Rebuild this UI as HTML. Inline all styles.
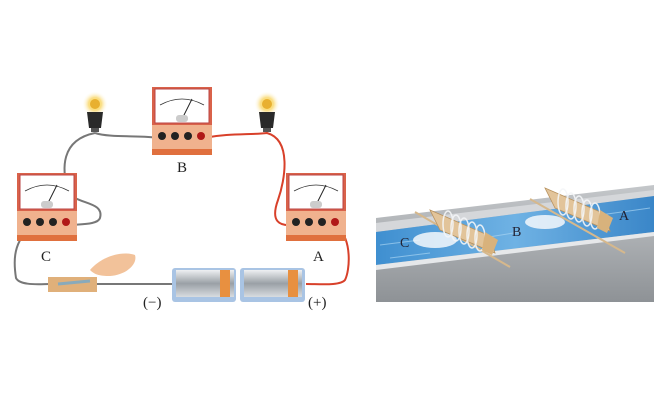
<!DOCTYPE html>
<html><head><meta charset="utf-8"><style>html,body{margin:0;padding:0;background:#fff}svg{display:block}</style></head>
<body>
<svg width="667" height="400" viewBox="0 0 667 400" xmlns="http://www.w3.org/2000/svg" font-family="Liberation Serif, serif">
<defs>
<linearGradient id="bat" x1="0" y1="0" x2="0" y2="1"><stop offset="0" stop-color="#eef0f2"/><stop offset="0.5" stop-color="#9aa0a6"/><stop offset="1" stop-color="#d8dce0"/></linearGradient>
<linearGradient id="wall" x1="0" y1="0" x2="0" y2="1"><stop offset="0" stop-color="#c4c7ca"/><stop offset="1" stop-color="#8e9296"/></linearGradient>
<linearGradient id="water" x1="0" y1="0" x2="1" y2="0"><stop offset="0" stop-color="#3f8fd0"/><stop offset="0.5" stop-color="#6fb2e4"/><stop offset="1" stop-color="#3a86c8"/></linearGradient>
<radialGradient id="glow"><stop offset="0" stop-color="#ffe070"/><stop offset="0.5" stop-color="#f8d050" stop-opacity="0.7"/><stop offset="1" stop-color="#fff" stop-opacity="0"/></radialGradient>
<g id="meter">
<rect x="0" y="0" width="60" height="68" fill="#d9624a"/>
<rect x="3" y="2" width="54" height="34" fill="#fff" stroke="#b44"/>
<path d="M8 18 Q30 6 52 18" fill="none" stroke="#333" stroke-width="0.8"/>
<line x1="30" y1="32" x2="40" y2="12" stroke="#222" stroke-width="1"/>
<rect x="24" y="28" width="12" height="7" rx="3" fill="#ccc"/>
<rect x="0" y="38" width="60" height="30" fill="#f0b28e"/>
<rect x="0" y="62" width="60" height="6" fill="#e0703e"/>
<circle cx="10" cy="49" r="4" fill="#222"/><circle cx="23" cy="49" r="4" fill="#222"/><circle cx="36" cy="49" r="4" fill="#222"/><circle cx="49" cy="49" r="4" fill="#b01818"/>
</g>
<g id="bulb">
<circle cx="0" cy="0" r="13" fill="url(#glow)"/>
<circle cx="0" cy="0" r="5" fill="#e8b030"/>
<path d="M-8 8 H8 L6 24 H-6 Z" fill="#2a2a2a"/>
<rect x="-4" y="24" width="8" height="4" fill="#555"/>
</g>
<g id="wheel">
<polygon points="0,0 60,26 65,43 10,20" fill="#e2c49a" stroke="#b8925e" stroke-width="0.8"/>
<g fill="none" stroke="#f4f6f8" stroke-width="1.5" opacity="0.9">
<ellipse cx="18" cy="14" rx="5" ry="13"/><ellipse cx="26" cy="18" rx="5" ry="13"/><ellipse cx="34" cy="21" rx="5" ry="13"/><ellipse cx="42" cy="25" rx="5" ry="13"/><ellipse cx="50" cy="28" rx="5" ry="13"/>
</g>
<polygon points="55,22 68,30 62,45 52,40" fill="#d8b27c"/>
</g>
</defs>
<g fill="none" stroke-width="2">
<path d="M95 133 C60 140,62 170,68 190 C72 205,105 200,100 218 C98 224,85 224,72 225" stroke="#777"/>
<path d="M95 133 C110 138,140 135,160 138" stroke="#777"/>
<path d="M203 138 C230 133,250 135,267 133 C292 140,285 180,278 200 C270 222,280 226,292 225" stroke="#d8402a"/>
<path d="M338 228 C352 240,350 270,345 280 C340 286,320 284,306 284" stroke="#d8402a"/>
<path d="M28 230 C12 245,14 265,16 278 C20 286,40 284,50 284" stroke="#777"/>
<path d="M97 284 L172 284" stroke="#777"/>
</g>
<use href="#meter" x="152" y="87"/>
<use href="#meter" x="17" y="173"/>
<use href="#meter" x="286" y="173"/>
<use href="#bulb" x="95" y="104"/>
<use href="#bulb" x="267" y="104"/>
<rect x="172" y="268" width="64" height="34" rx="3" fill="#a9c4e4"/>
<rect x="176" y="270" width="58" height="27" fill="url(#bat)"/>
<rect x="220" y="270" width="10" height="27" fill="#e89040"/>
<rect x="240" y="268" width="65" height="34" rx="3" fill="#a9c4e4"/>
<rect x="244" y="270" width="58" height="27" fill="url(#bat)"/>
<rect x="288" y="270" width="10" height="27" fill="#e89040"/>
<rect x="48" y="277" width="49" height="15" fill="#e0b07a"/>
<path d="M58 284 L90 281" stroke="#8ab" stroke-width="3"/>
<path d="M90 270 C100 258,120 250,135 255 C138 265,125 275,110 276 C100 276,95 275,90 270 Z" fill="#f2c29a"/>
<g font-size="15" fill="#222">
<text x="177" y="172">B</text>
<text x="41" y="261">C</text>
<text x="313" y="261">A</text>
<text x="143" y="307">(−)</text>
<text x="308" y="307">(+)</text>
</g>
<polygon points="376,218 654,185 654,302 376,302" fill="url(#wall)"/>
<polygon points="376,223 654,190 654,196 376,232" fill="#d5d7da"/>
<polygon points="376,232 654,196 654,232 376,265" fill="url(#water)"/>
<g stroke="#a8d4f2" stroke-width="1" opacity="0.7">
<line x1="380" y1="245" x2="420" y2="240"/><line x1="470" y1="240" x2="520" y2="232"/><line x1="600" y1="215" x2="650" y2="208"/><line x1="390" y1="258" x2="430" y2="253"/>
</g>
<polygon points="376,265 654,232 654,236 376,270" fill="#e6e8ea"/>
<g fill="#f4f8fb" opacity="0.85">
<ellipse cx="435" cy="240" rx="22" ry="8"/>
<ellipse cx="545" cy="222" rx="20" ry="7"/>
</g>
<g stroke="#d6b88c" stroke-width="2">
<line x1="415" y1="212" x2="510" y2="267"/>
<line x1="530" y1="199" x2="625" y2="253"/>
</g>
<use href="#wheel" x="430" y="210"/>
<use href="#wheel" x="545" y="188"/>
<g font-size="14" fill="#223">
<text x="400" y="247">C</text>
<text x="512" y="236">B</text>
<text x="619" y="220">A</text>
</g>
</svg>
</body></html>
